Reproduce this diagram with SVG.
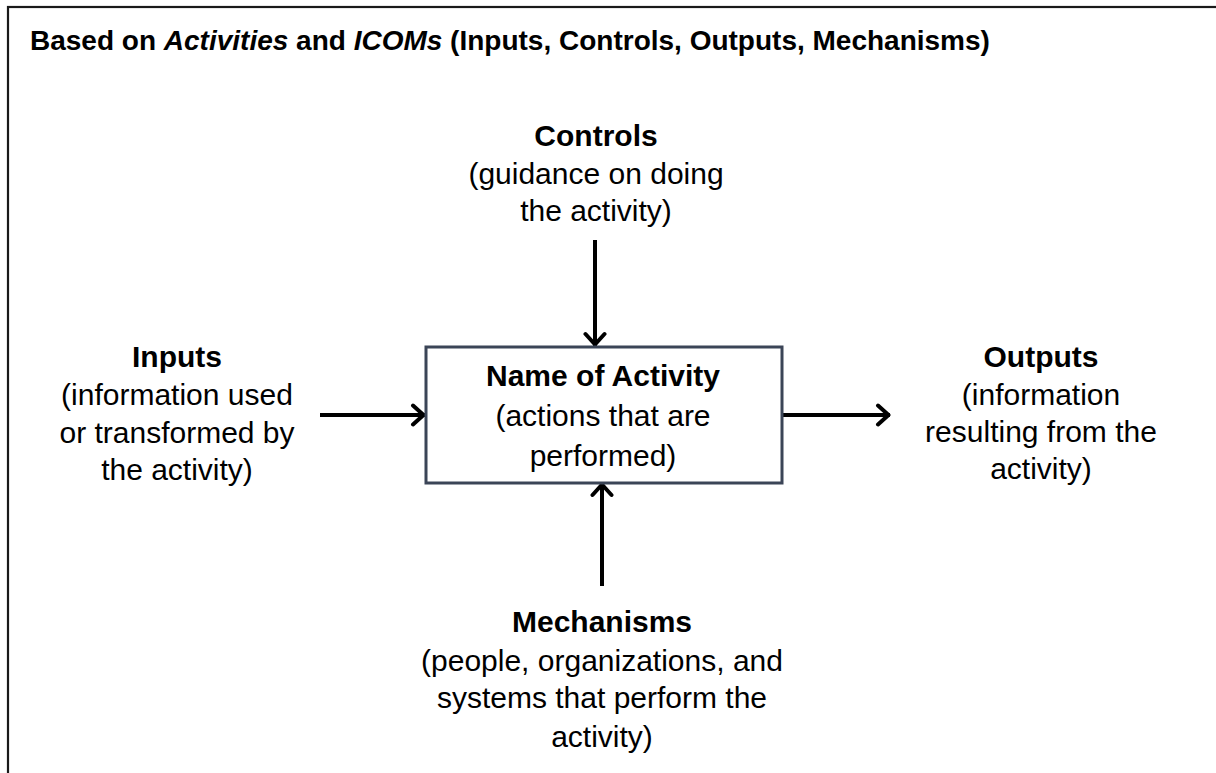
<svg xmlns="http://www.w3.org/2000/svg" width="1216" height="773" viewBox="0 0 1216 773">
  <style>
    text { font-family: "Liberation Sans", Arial, sans-serif; fill: #000; text-anchor: middle; }
    .h { font-size: 30px; font-weight: bold; }
    .b { font-size: 30px; }
    .title { font-size: 28px; font-weight: bold; text-anchor: start; }
    .conn { stroke: #000; stroke-width: 4; fill: none; marker-end: url(#arr); }
  </style>
  <defs>
    <marker id="arr" viewBox="-16 -14 18 28" refX="1.5" refY="0" markerWidth="18" markerHeight="28" markerUnits="userSpaceOnUse" orient="auto">
      <path d="M-10.5,-9.5 L0,0 L-10.5,9.5" fill="none" stroke="#000" stroke-width="4" stroke-linecap="round" stroke-linejoin="round"/>
    </marker>
  </defs>
  <rect width="1216" height="773" fill="#fff"/>
  <rect id="frame" x="8" y="7" width="1230" height="800" fill="none" stroke="#1a1a1a" stroke-width="2.2"/>
  <text class="title" x="30" y="50">Based on <tspan font-style="italic">Activities</tspan> and <tspan font-style="italic">ICOMs</tspan> (Inputs, Controls, Outputs, Mechanisms)</text>

  <g id="connectors">
    <line class="conn" x1="595" y1="240" x2="595" y2="346"/>
    <line class="conn" x1="602" y1="586" x2="602" y2="483"/>
    <line class="conn" x1="320" y1="415" x2="425" y2="415"/>
    <line class="conn" x1="783" y1="415" x2="890" y2="415"/>
  </g>

  <g id="activity">
    <rect x="426" y="347" width="356" height="136" fill="#fff" stroke="#3b4557" stroke-width="3"/>
    <text class="h" x="603" y="386">Name of Activity</text>
    <text class="b" x="603" y="426">(actions that are</text>
    <text class="b" x="603" y="466">performed)</text>
  </g>

  <g id="controls">
    <text class="h" x="596" y="146">Controls</text>
    <text class="b" x="596" y="184">(guidance on doing</text>
    <text class="b" x="596" y="221">the activity)</text>
  </g>

  <g id="inputs">
    <text class="h" x="177" y="367">Inputs</text>
    <text class="b" x="177" y="405">(information used</text>
    <text class="b" x="177" y="443">or transformed by</text>
    <text class="b" x="177" y="480">the activity)</text>
  </g>

  <g id="outputs">
    <text class="h" x="1041" y="367">Outputs</text>
    <text class="b" x="1041" y="405">(information</text>
    <text class="b" x="1041" y="442">resulting from the</text>
    <text class="b" x="1041" y="479">activity)</text>
  </g>

  <g id="mechanisms">
    <text class="h" x="602" y="632">Mechanisms</text>
    <text class="b" x="602" y="671">(people, organizations, and</text>
    <text class="b" x="602" y="708">systems that perform the</text>
    <text class="b" x="602" y="747">activity)</text>
  </g>
</svg>
